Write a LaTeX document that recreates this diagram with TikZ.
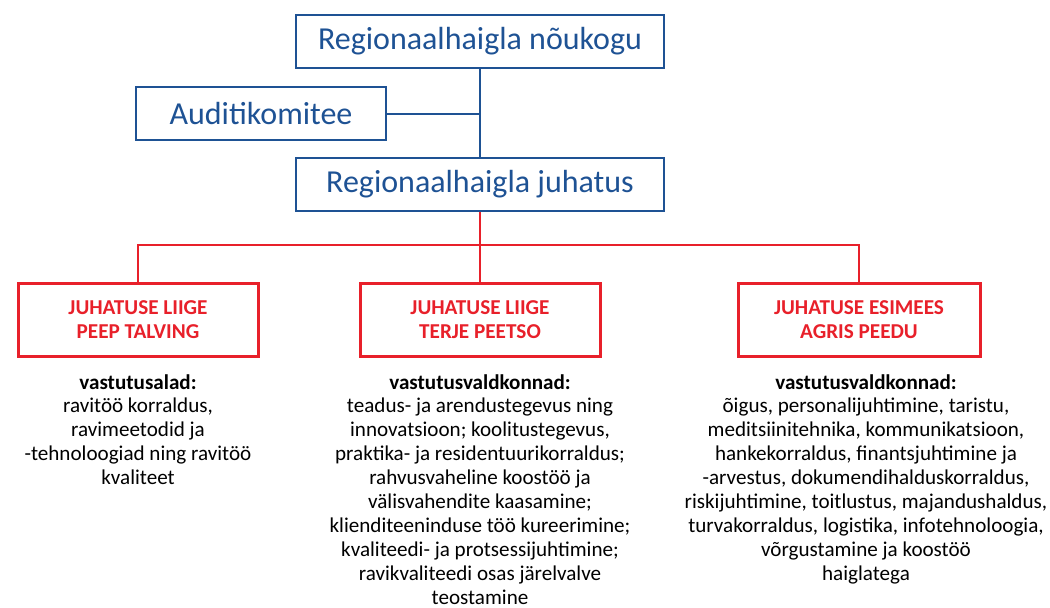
\documentclass[tikz,border=0pt]{standalone}
\usepackage{fontspec}
\setmainfont{Carlito}
\definecolor{rhblue}{RGB}{30,82,148}
\definecolor{rhred}{RGB}{232,32,42}
\begin{document}
\begin{tikzpicture}[x=1pt,y=-1pt,
  bluebox/.style={draw=rhblue,line width=2pt,text=rhblue,minimum width=368pt,minimum height=53pt,font=\fontsize{32}{36}\selectfont,inner sep=0pt},
  redbox/.style={draw=rhred,line width=3pt,text=rhred,minimum width=240pt,minimum height=73pt,font=\bfseries\fontsize{21.2}{24}\selectfont,align=center,inner sep=0pt},
  desc/.style={anchor=north,align=center,font=\fontsize{21.1}{23.9}\selectfont,inner sep=0pt},
  blueline/.style={draw=rhblue,line width=2pt},
  redline/.style={draw=rhred,line width=2pt}]
\useasboundingbox (0,0) rectangle (1050,608);
\node[bluebox] (nk) at (480,41.5) {Regionaalhaigla nõukogu};
\node[bluebox,minimum width=250pt] (ak) at (261,113.5) {Auditikomitee};
\node[bluebox] (jh) at (480,184.5) {Regionaalhaigla juhatus};
\node[redbox] (r1) at (138,319.5) {JUHATUSE LIIGE\\PEEP TALVING};
\node[redbox] (r2) at (480,319.5) {JUHATUSE LIIGE\\TERJE PEETSO};
\node[redbox,minimum width=242pt] (r3) at (859,319.5) {JUHATUSE ESIMEES\\AGRIS PEEDU};
\coordinate (bus) at (480,245);
\draw[blueline] (nk.south) -- (jh.north);
\draw[blueline] (ak.east) -- (ak.east -| nk.south);
\draw[redline] (jh.south) -- (bus);
\draw[redline] (r1.north) |- (bus) -| (r3.north);
\draw[redline] (bus) -- (r2.north);
\node[desc] (d1) at (138,374) {\textbf{vastutusalad:}\\ravitöö korraldus,\\ravimeetodid ja\\-tehnoloogiad ning ravitöö\\kvaliteet};
\node[desc] (d2) at (480,374) {\textbf{vastutusvaldkonnad:}\\teadus- ja arendustegevus ning\\innovatsioon; koolitustegevus,\\praktika- ja residentuurikorraldus;\\rahvusvaheline koostöö ja\\välisvahendite kaasamine;\\klienditeeninduse töö kureerimine;\\kvaliteedi- ja protsessijuhtimine;\\ravikvaliteedi osas järelvalve\\teostamine};
\node[desc] (d3) at (866,374) {\textbf{vastutusvaldkonnad:}\\õigus, personalijuhtimine, taristu,\\meditsiinitehnika, kommunikatsioon,\\hankekorraldus, finantsjuhtimine ja\\-arvestus, dokumendihalduskorraldus,\\riskijuhtimine, toitlustus, majandushaldus,\\turvakorraldus, logistika, infotehnoloogia,\\võrgustamine ja koostöö\\haiglatega};
\end{tikzpicture}
\end{document}
